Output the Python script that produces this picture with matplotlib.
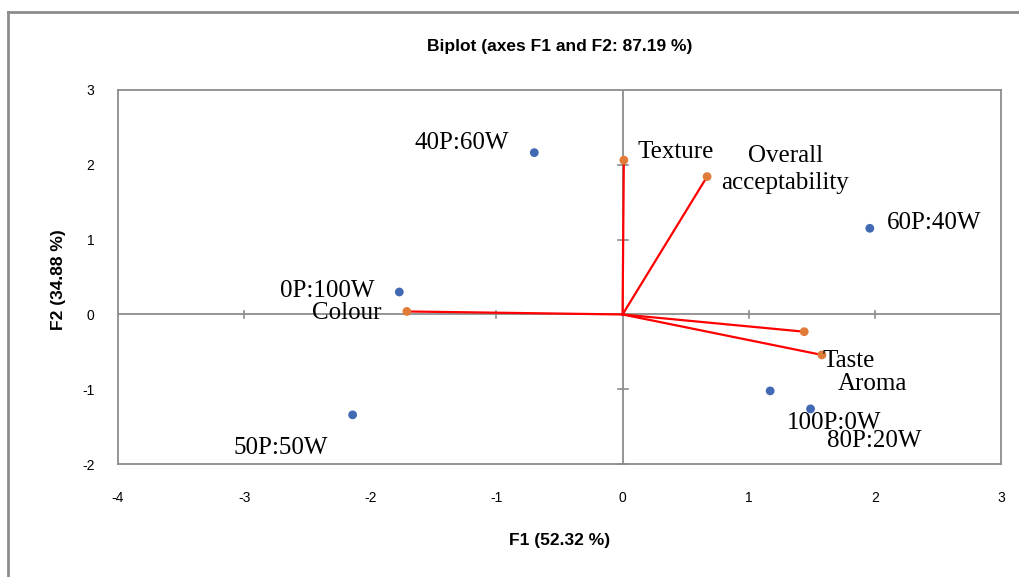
import matplotlib.pyplot as plt
from matplotlib.lines import Line2D

plt.rcParams["axes.unicode_minus"] = False

# Observations (blue points)
obs_names = ["40P:60W", "60P:40W", "0P:100W", "50P:50W", "100P:0W", "80P:20W"]
obs_f1 = [-0.70, 1.96, -1.77, -2.14, 1.17, 1.49]
obs_f2 = [2.16, 1.15, 0.30, -1.34, -1.02, -1.26]

# Variables (orange points with red vectors)
var_names = ["Texture", "Overall\nacceptability", "Colour", "Taste", "Aroma"]
var_f1 = [0.01, 0.67, -1.71, 1.44, 1.58]
var_f2 = [2.06, 1.84, 0.04, -0.23, -0.54]

x_ticks = [-4, -3, -2, -1, 0, 1, 2, 3]
y_ticks = [-2, -1, 0, 1, 2, 3]

# label placement: (dx, dy in pixels, horizontal alignment)
obs_offsets = [(-25, 10, "right"), (17, 5, "left"), (-25, 1, "right"),
               (-72, -33, "center"), (17, -32, "left"), (16, -32, "left")]
var_offsets = [(14, 8, "left"), (78, 7, "center"), (-25, -2, "right"),
               (18, -29, "left"), (16, -29, "left")]

sans = ["Liberation Sans", "DejaVu Sans"]
serif = ["Liberation Serif", "DejaVu Serif"]
grey = "#8c8c8c"

fig = plt.figure(figsize=(10.2, 5.77), dpi=100)
ax = fig.add_axes([118 / 1020, 1 - 464.3 / 577, 883 / 1020, 374.6 / 577])

# outer chart border (left and top visible)
fig.add_artist(Line2D([8 / 1020, 8 / 1020], [0, 1 - 12 / 577], transform=fig.transFigure,
                      color=grey, lw=2))
fig.add_artist(Line2D([8 / 1020, 1], [1 - 12 / 577, 1 - 12 / 577], transform=fig.transFigure,
                      color=grey, lw=2))

ax.set_xlim(-4, 3)
ax.set_ylim(-2, 3)
for s in ax.spines.values():
    s.set_color(grey)
    s.set_linewidth(1.3)

# zero axes with cross ticks
ax.axhline(0, color=grey, lw=1.3, zorder=1)
ax.axvline(0, color=grey, lw=1.3, zorder=1)
for t in x_ticks[1:-1]:
    if t != 0:
        ax.plot([t, t], [-0.05, 0.05], color=grey, lw=1.2, zorder=1)
for t in y_ticks[1:-1]:
    if t != 0:
        ax.plot([-0.04, 0.04], [t, t], color=grey, lw=1.2, zorder=1)
ax.plot([-0.04, 0.04], [-2, -2], color=grey, lw=1.2, zorder=1, clip_on=False)

ax.set_xticks(x_ticks)
ax.set_yticks(y_ticks)
ax.tick_params(length=0, pad=19, labelsize=10)
ax.tick_params(axis="y", pad=17)
for lab in ax.get_xticklabels() + ax.get_yticklabels():
    lab.set_fontfamily(sans)

# vectors
for x, y in zip(var_f1, var_f2):
    ax.plot([0, x], [0, y], color="#ff0000", lw=1.6, zorder=2)
ax.scatter(var_f1, var_f2, s=40, color="#e07b39", zorder=3, edgecolors="none")
ax.scatter(obs_f1, obs_f2, s=40, color="#4169b4", zorder=3, edgecolors="none")

for name, x, y, (dx, dy, ha) in zip(obs_names, obs_f1, obs_f2, obs_offsets):
    ax.annotate(name, (x, y), xytext=(dx, dy), textcoords="offset pixels",
                ha=ha, va="center", fontsize=18, family=serif, linespacing=1.0)
for name, x, y, (dx, dy, ha) in zip(var_names, var_f1, var_f2, var_offsets):
    ax.annotate(name, (x, y), xytext=(dx, dy), textcoords="offset pixels",
                ha=ha, va="center", fontsize=18, family=serif, linespacing=1.3,
                multialignment="center")

fig.text(560 / 1020, 1 - 46 / 577, "Biplot (axes F1 and F2: 87.19 %)", ha="center", va="center",
         fontsize=12.5, fontweight="bold", family=sans)
fig.text(560 / 1020, 1 - 540 / 577, "F1 (52.32 %)", ha="center", va="center",
         fontsize=12.5, fontweight="bold", family=sans)
fig.text(58 / 1020, 1 - 280 / 577, "F2 (34.88 %)", ha="center", va="center", rotation=90,
         fontsize=12.5, fontweight="bold", family=sans)

fig.savefig("out.png", dpi=100)
